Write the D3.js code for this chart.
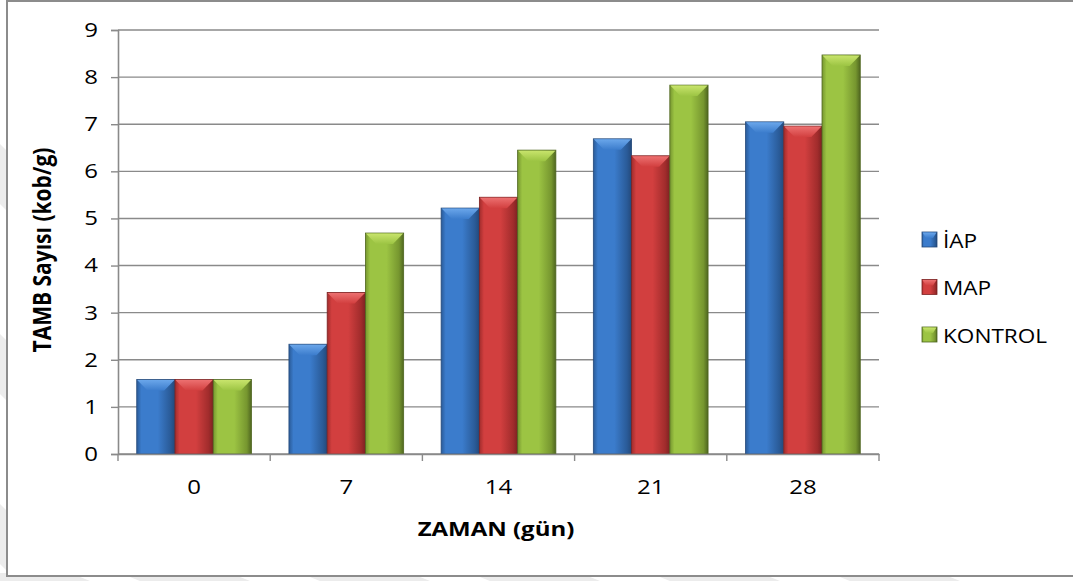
<!DOCTYPE html>
<html>
<head>
<meta charset="utf-8">
<script src="https://cdn.jsdelivr.net/npm/d3@7"></script>
<style>
  html, body { margin: 0; padding: 0; background: #fff; }
  svg { display: block; }
  text { font-family: "Open Sans", "Noto Sans", sans-serif; fill: #000; }
</style>
</head>
<body>
<svg id="chart" width="1073" height="581"></svg>
<script>
// Sampling days and measured counts per packaging type
const days = ["0", "7", "14", "21", "28"];
const seriesNames = ["İAP", "MAP", "KONTROL"];
const iapValues = [1.58, 2.33, 5.22, 6.69, 7.05];
const mapValues = [1.58, 3.43, 5.45, 6.33, 6.96];
const kontrolValues = [1.58, 4.69, 6.45, 7.83, 8.47];
const yTicks = [0, 1, 2, 3, 4, 5, 6, 7, 8, 9];

const seriesValues = [iapValues, mapValues, kontrolValues];
const palette = [
  { base: "#3b7ccc", light: "#6aa6ea", dark: "#2a5b98", edge: "#24497a" },
  { base: "#d23f3f", light: "#ec7070", dark: "#a12c2c", edge: "#7d2222" },
  { base: "#9cc443", light: "#c8e46c", dark: "#76962f", edge: "#4f6620" }
];

// text is drawn slightly widened horizontally
const SX = 1.2;

const svg = d3.select("#chart");
const defs = svg.append("defs");

// faint background stripes around the frame
const stripes = svg.append("g").attr("fill", "#ececec");
[[-40, 581], [120, 581], [300, 581], [470, 581], [650, 581], [830, 581]].forEach(([x, y]) => {
  stripes.append("polygon")
    .attr("points", `${x},${y - 8} ${x + 110},${y - 8} ${x + 150},${y + 8} ${x + 40},${y + 8}`);
});
[[0, 140], [0, 330], [0, 500]].forEach(([x, y]) => {
  stripes.append("polygon")
    .attr("points", `${x - 4},${y} ${x + 6},${y + 10} ${x + 6},${y + 70} ${x - 4},${y + 60}`);
});

// chart frame
svg.append("rect")
  .attr("x", 7).attr("y", 1)
  .attr("width", 1080).attr("height", 575)
  .attr("fill", "#fff")
  .attr("stroke", "#8c8c8c").attr("stroke-width", 2);

const plot = { left: 118, right: 879, top: 30, bottom: 454 };

const x0 = d3.scaleBand().domain(days).range([plot.left, plot.right]).paddingInner(0).paddingOuter(0);
const x1 = d3.scaleBand().domain(seriesNames).range([0, x0.bandwidth()]).paddingInner(0).paddingOuter(0.49);
const y = d3.scaleLinear().domain([0, 9]).range([plot.bottom, plot.top]);

// gradients for bar bodies
palette.forEach((c, i) => {
  const g = defs.append("linearGradient").attr("id", "body" + i)
    .attr("x1", "0").attr("x2", "1").attr("y1", "0").attr("y2", "0");
  g.append("stop").attr("offset", "0").attr("stop-color", c.dark);
  g.append("stop").attr("offset", "0.12").attr("stop-color", c.base);
  g.append("stop").attr("offset", "0.55").attr("stop-color", c.base);
  g.append("stop").attr("offset", "0.88").attr("stop-color", c.dark);
  g.append("stop").attr("offset", "1").attr("stop-color", c.edge);
  const t = defs.append("linearGradient").attr("id", "top" + i)
    .attr("x1", "0").attr("x2", "0").attr("y1", "0").attr("y2", "1");
  t.append("stop").attr("offset", "0").attr("stop-color", c.light);
  t.append("stop").attr("offset", "1").attr("stop-color", c.base);
});

// gridlines
svg.append("g")
  .selectAll("line")
  .data(yTicks)
  .join("line")
  .attr("x1", plot.left).attr("x2", plot.right)
  .attr("y1", d => y(d)).attr("y2", d => y(d))
  .attr("stroke", "#8a8a8a").attr("stroke-width", 1.4);

// y axis
const yPad = 13;
const yAxis = svg.append("g")
  .attr("transform", `translate(${plot.left},0)`)
  .call(d3.axisLeft(y).tickValues(yTicks).tickSize(7).tickPadding(yPad).tickFormat(d3.format("d")));
yAxis.select(".domain").attr("stroke", "#8a8a8a").attr("stroke-width", 1.6);
yAxis.selectAll(".tick line").attr("stroke", "#8a8a8a").attr("stroke-width", 1.4);
yAxis.selectAll(".tick text")
  .attr("font-size", 20).attr("fill", "#000")
  .attr("x", -(7 + yPad) / SX)
  .attr("transform", `scale(${SX},1)`);

// bars
const groups = svg.append("g")
  .selectAll("g")
  .data(days)
  .join("g")
  .attr("transform", d => `translate(${x0(d)},0)`);

const bw = x1.bandwidth();
const bevel = 11;

groups.each(function(day, di) {
  const g = d3.select(this);
  seriesNames.forEach((name, si) => {
    const v = seriesValues[si][di];
    const bx = x1(name);
    const top = y(v);
    const h = y(0) - top;
    g.append("rect")
      .attr("x", bx).attr("y", top)
      .attr("width", bw).attr("height", h)
      .attr("fill", `url(#body${si})`)
      .attr("stroke", palette[si].edge).attr("stroke-width", 0.8);
    const bh = Math.min(bevel, h / 2);
    g.append("polygon")
      .attr("points", [
        [bx + 0.5, top + 0.5], [bx + bw - 0.5, top + 0.5],
        [bx + bw - bw * 0.28, top + bh], [bx + bw * 0.28, top + bh]
      ].map(p => p.join(",")).join(" "))
      .attr("fill", `url(#top${si})`);
  });
});

// x axis
const xAxis = svg.append("g")
  .attr("transform", `translate(0,${plot.bottom})`)
  .call(d3.axisBottom(x0).tickSize(0).tickPadding(26));
xAxis.select(".domain").attr("stroke", "#8a8a8a").attr("stroke-width", 1.6);
xAxis.selectAll(".tick text")
  .attr("font-size", 20).attr("fill", "#000")
  .attr("transform", `scale(${SX},1)`);
svg.append("g")
  .selectAll("line")
  .data(d3.range(days.length + 1))
  .join("line")
  .attr("x1", i => plot.left + i * x0.bandwidth())
  .attr("x2", i => plot.left + i * x0.bandwidth())
  .attr("y1", plot.bottom).attr("y2", plot.bottom + 7)
  .attr("stroke", "#8a8a8a").attr("stroke-width", 1.4);

// axis titles
svg.append("text")
  .attr("transform", `translate(496,536) scale(${SX},1)`)
  .attr("text-anchor", "middle")
  .attr("font-size", 20).attr("font-weight", "bold")
  .text("ZAMAN (gün)");

svg.append("text")
  .attr("transform", `translate(51,250) scale(${SX - 0.05},1) rotate(-90)`)
  .attr("text-anchor", "middle")
  .attr("font-size", 21).attr("font-weight", "bold")
  .text("TAMB Sayısı (kob/g)");

// legend
const legend = svg.append("g");
seriesNames.forEach((name, i) => {
  const cy = 240 + i * 47.5;
  const c = palette[i];
  legend.append("rect")
    .attr("x", 922).attr("y", cy - 8).attr("width", 15).attr("height", 15)
    .attr("fill", `url(#body${i})`).attr("stroke", c.edge).attr("stroke-width", 0.8);
  legend.append("polygon")
    .attr("points", `922.5,${cy - 7.5} 936.5,${cy - 7.5} 933,${cy - 2} 926,${cy - 2}`)
    .attr("fill", `url(#top${i})`);
  legend.append("text")
    .attr("transform", `translate(943,${cy}) scale(1.13,1)`)
    .attr("dominant-baseline", "central")
    .attr("font-size", 20)
    .text(name);
});
</script>
</body>
</html>
